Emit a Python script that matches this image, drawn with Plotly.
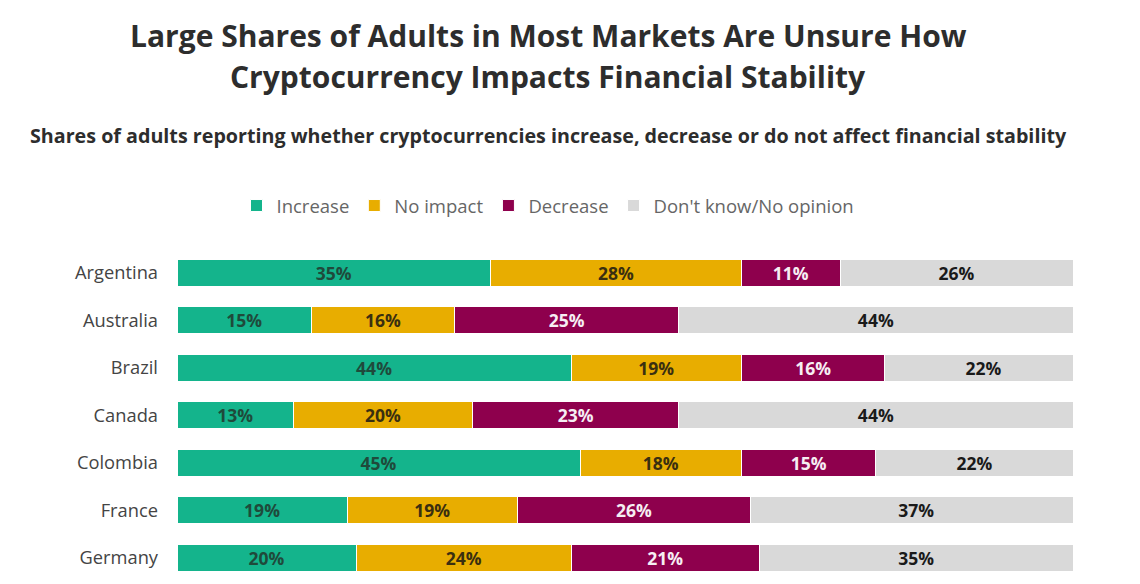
import plotly.graph_objects as go

countries = ["Argentina", "Australia", "Brazil", "Canada", "Colombia", "France", "Germany"]
increase = [35, 15, 44, 13, 45, 19, 20]
no_impact = [28, 16, 19, 20, 18, 19, 24]
decrease = [11, 25, 16, 23, 15, 26, 21]
dont_know = [26, 44, 22, 44, 22, 37, 35]

series = [
    ("Increase", increase, "#14b48c", "#1f4a3b"),
    ("No impact", no_impact, "#e8ad00", "#3a2f10"),
    ("Decrease", decrease, "#8e004d", "#f6eef3"),
    ("Don't know/No opinion", dont_know, "#d9d9d9", "#1a1a1a"),
]

fig = go.Figure()
for name, vals, color, tcolor in series:
    fig.add_trace(go.Bar(
        y=countries, x=vals, name=name, orientation="h",
        marker=dict(color=color, line=dict(color="white", width=1)),
        text=[f"{v}%" for v in vals], textposition="inside",
        insidetextanchor="middle", textangle=0, constraintext="none",
        textfont=dict(family="Open Sans", size=17.5, color=tcolor, weight="bold"),
        hoverinfo="skip",
    ))

# page body has an 8px margin, so figure coords = screen coords - 8
OFF = 8
W, H = 1124, 568
L = 177 - OFF
R = W - (1073 - OFF)
T = 249 - OFF
B = 0
pw, ph = W - L - R, H - T - B
row_px = 47.5
span = ph / row_px

def px(x):
    return (x - OFF - L) / pw

def py(y):
    return (H - B - (y - OFF)) / ph

fig.update_layout(
    width=W, height=H,
    barmode="stack", bargap=0.43,
    margin=dict(l=L, r=R, t=T, b=B),
    paper_bgcolor="white", plot_bgcolor="white",
    font=dict(family="Open Sans", color="#444"),
    xaxis=dict(range=[0, 100], visible=False, fixedrange=True),
    yaxis=dict(range=[-0.5 + span, -0.5], showgrid=False, zeroline=False, showline=False,
               ticks="", ticklabelstandoff=18, fixedrange=True,
               tickfont=dict(family="Open Sans", size=18.3, color="#444")),
    legend=dict(orientation="h", xref="container", x=(548 - OFF) / W, xanchor="center",
                yref="container", y=1 - (206 - OFF) / H, yanchor="middle",
                font=dict(family="Open Sans", size=18.5, color="#666"),
                traceorder="normal", itemclick=False, itemdoubleclick=False),
    showlegend=True,
    annotations=[
        dict(text="<b>Large Shares of Adults in Most Markets Are Unsure How</b>",
             x=px(548), y=py(35), xref="paper", yref="paper", showarrow=False,
             xanchor="center", yanchor="middle",
             font=dict(family="Open Sans", size=30, color="#2d2d2d")),
        dict(text="<b>Cryptocurrency Impacts Financial Stability</b>",
             x=px(548), y=py(77), xref="paper", yref="paper", showarrow=False,
             xanchor="center", yanchor="middle",
             font=dict(family="Open Sans", size=30, color="#2d2d2d")),
        dict(text="<b>Shares of adults reporting whether cryptocurrencies increase, decrease or do not affect financial stability</b>",
             x=px(548), y=py(135), xref="paper", yref="paper", showarrow=False,
             xanchor="center", yanchor="middle",
             font=dict(family="Open Sans", size=19.7, color="#2d2d2d")),
    ],
)

fig.write_html("out.html")
